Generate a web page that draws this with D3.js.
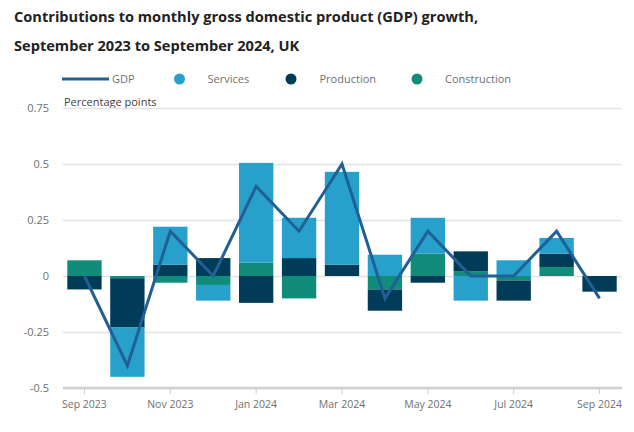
<!DOCTYPE html>
<html><head><meta charset="utf-8">
<script src="https://cdn.jsdelivr.net/npm/d3@7"></script>
<style>body{margin:0;background:#fff;} svg{display:block;font-family:"Open Sans",sans-serif;}</style>
</head><body>
<svg id="c" width="634" height="432"></svg>
<script>
const months = ["Sep 2023","Oct 2023","Nov 2023","Dec 2023","Jan 2024","Feb 2024","Mar 2024","Apr 2024","May 2024","Jun 2024","Jul 2024","Aug 2024","Sep 2024"];
const services     = [0.00,-0.22, 0.17,-0.07, 0.445, 0.18, 0.415, 0.095, 0.16,-0.11, 0.07, 0.07, 0.00];
const production   = [-0.06,-0.22, 0.05, 0.08,-0.12, 0.08, 0.05,-0.095,-0.03, 0.09,-0.09, 0.06,-0.07];
const construction = [0.07,-0.01,-0.03,-0.04, 0.06,-0.10, 0.00,-0.06, 0.10, 0.02,-0.02, 0.04, 0.00];
const gdp          = [0.0,-0.4, 0.2, 0.0, 0.4, 0.2, 0.5,-0.1, 0.2, 0.0, 0.0, 0.2,-0.1];
const yTicks = [-0.5,-0.25,0,0.25,0.5,0.75];
const yTickLabels = ["-0.5","-0.25","0","0.25","0.5","0.75"];
const xTickLabels = ["Sep 2023","Nov 2023","Jan 2024","Mar 2024","May 2024","Jul 2024","Sep 2024"];

const colors = {Services:"#27a0cc", Production:"#003c57", Construction:"#118c7b", GDP:"#206095"};

const svg = d3.select("#c");
const L = 63, R = 621, T = 108, B = 388;

const x = d3.scaleBand().domain(months).range([L, R]).paddingInner(0.2).paddingOuter(0.1);
const y = d3.scaleLinear().domain([-0.5, 0.75]).range([B, T]);

// title
svg.append("text").attr("x",14).attr("y",21.5).attr("font-size",14.6).attr("font-weight",700).attr("fill","#222")
  .text("Contributions to monthly gross domestic product (GDP) growth,");
svg.append("text").attr("x",14).attr("y",50.5).attr("font-size",14.6).attr("font-weight",700).attr("fill","#222")
  .text("September 2023 to September 2024, UK");

// legend
const lg = svg.append("g").attr("font-size",11).attr("fill","#707071");
lg.append("line").attr("x1",62).attr("x2",109).attr("y1",79).attr("y2",79).attr("stroke",colors.GDP).attr("stroke-width",3);
lg.append("text").attr("x",112).attr("y",83).text("GDP");
[["Services",179.5,207.5],["Production",291,319.5],["Construction",417,445]].forEach(([k,cx,tx])=>{
  lg.append("circle").attr("cx",cx).attr("cy",79).attr("r",5.5).attr("fill",colors[k]);
  lg.append("text").attr("x",tx).attr("y",83).text(k);
});

svg.append("text").attr("x",64).attr("y",105.5).attr("font-size",11).attr("fill","#414042").text("Percentage points");

// grid + y labels
const yAxis = d3.axisLeft(y).tickValues(yTicks).tickSize(-(R - L + 1)).tickFormat((d,i)=>yTickLabels[i]).tickPadding(14);
const ga = svg.append("g").attr("transform",`translate(${L},0)`).call(yAxis);
ga.select(".domain").remove();
ga.selectAll(".tick line").attr("stroke","#e2e2e3").attr("stroke-width",1.5);
ga.selectAll(".tick text").attr("font-size",11).attr("fill","#707071").attr("font-family","Open Sans, sans-serif");

// stacked bars
const rows = months.map((m,i)=>({month:m, Construction:construction[i], Production:production[i], Services:services[i]}));
const keys = ["Construction","Production","Services"];
const series = d3.stack().keys(keys).offset(d3.stackOffsetDiverging)(rows);
svg.append("g").selectAll("g").data(series).join("g").attr("fill",d=>colors[d.key])
  .selectAll("rect").data(d=>d).join("rect")
  .attr("x",d=>x(d.data.month)).attr("width",x.bandwidth())
  .attr("y",d=>y(Math.max(d[0],d[1]))).attr("height",d=>Math.abs(y(d[0])-y(d[1])));

// x axis
const xc = m => x(m) + x.bandwidth()/2;
const gx = svg.append("g").attr("transform",`translate(0,${B})`);
gx.append("line").attr("x1",L).attr("x2",R+1).attr("stroke","#d0d0d0").attr("stroke-width",2.5);
xTickLabels.forEach(m=>{
  gx.append("line").attr("x1",xc(m)).attr("x2",xc(m)).attr("y1",0).attr("y2",6).attr("stroke","#ccc");
  gx.append("text").attr("x",xc(m)).attr("y",20).attr("text-anchor","middle").attr("font-size",10.5).attr("fill","#707071").text(m);
});

// GDP line
svg.append("path").datum(gdp).attr("fill","none").attr("stroke",colors.GDP).attr("stroke-width",3)
  .attr("stroke-linejoin","miter")
  .attr("d", d3.line().x((d,i)=>xc(months[i])).y(d=>y(d)));
</script>
</body></html>
